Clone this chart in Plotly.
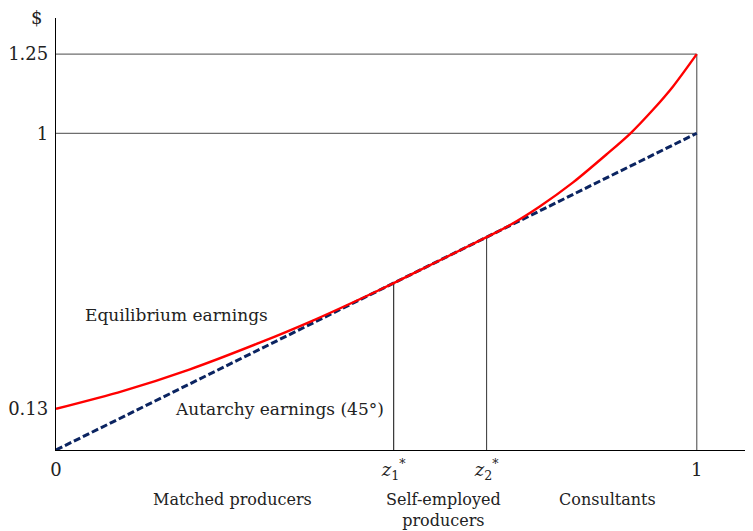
import plotly.graph_objects as go

# ---- data ----
z1 = 0.527
z2 = 0.672
autarchy_x = [0.0, 1.0]
autarchy_y = [0.0, 1.0]

equil_x = [0.0, 0.104, 0.208, 0.318, 0.40, 0.474, 0.527, 0.60, 0.672,
           0.71, 0.755, 0.807, 0.859, 0.8966, 0.932, 0.963, 1.0]
equil_y = [0.13, 0.186, 0.254, 0.339, 0.408, 0.476, 0.527, 0.60, 0.672,
           0.712, 0.769, 0.845, 0.933, 1.0, 1.075, 1.148, 1.25]

y_ticks = [0.13, 1.0, 1.25]
y_tick_text = ["0.13", "1", "1.25"]
x_ticks = [0.0, z1, z2, 1.0]
x_tick_text = ["0", "<i>z</i><sub>1</sub><sup>*</sup>", "<i>z</i><sub>2</sub><sup>*</sup>", "1"]

region_labels = ["Matched producers", "Self-employed<br>producers", "Consultants"]
region_x = [0.275, 0.605, 0.86]

FONT = "DejaVu Serif, serif"
GREY = "#6e6e6e"
TXT = "#222222"

fig = go.Figure()

# reference lines (grey)
for xs, ys, col, w in [([0, 1], [1.25, 1.25], GREY, 1.3),
                       ([0, 1], [1.0, 1.0], GREY, 1.3),
                       ([1, 1], [0, 1.25], GREY, 1.3),
                       ([z1, z1], [0, z1], "#222222", 1.1),
                       ([z2, z2], [0, z2], "#444444", 1.1)]:
    fig.add_trace(go.Scatter(x=xs, y=ys, mode="lines", line=dict(color=col, width=w),
                             hoverinfo="skip", showlegend=False))

# autarchy (45 degree) line
fig.add_trace(go.Scatter(x=autarchy_x, y=autarchy_y, mode="lines",
                         line=dict(color="#0b2461", width=3, dash="7px,3px"),
                         showlegend=False))
# equilibrium earnings
fig.add_trace(go.Scatter(x=equil_x, y=equil_y, mode="lines",
                         line=dict(color="#ff0000", width=2.4, shape="spline", smoothing=0.8),
                         showlegend=False))

annotations = [
    dict(x=0.042, y=0.426, text="Equilibrium earnings", xanchor="left", yanchor="middle",
         showarrow=False, font=dict(size=17, family=FONT, color=TXT)),
    dict(x=0.1825, y=0.129, text="Autarchy earnings (45°)", xanchor="left", yanchor="middle",
         showarrow=False, font=dict(size=17, family=FONT, color=TXT)),
    dict(x=-0.0275, y=1.002, xref="paper", yref="paper", text="$", xanchor="center",
         yanchor="middle", showarrow=False, font=dict(size=18, family=FONT, color=TXT)),
    dict(x=1.0, y=-0.03, xref="paper", yref="paper", text="<i>z</i>", xanchor="left",
         yanchor="middle", showarrow=False, font=dict(size=18, family=FONT, color=TXT)),
]
for lab, xv in zip(region_labels, region_x):
    annotations.append(dict(x=xv, y=-0.088, xref="x", yref="paper", text=lab,
                            xanchor="center", yanchor="top", showarrow=False, align="center",
                            font=dict(size=16, family=FONT, color=TXT)))

fig.update_layout(
    width=745, height=523,
    margin=dict(l=48, r=5, t=10, b=81, autoexpand=False),
    plot_bgcolor="white", paper_bgcolor="white",
    font=dict(family=FONT, size=18, color=TXT),
    annotations=annotations,
    xaxis=dict(range=[0, 1.08], showgrid=False, zeroline=False, showline=True,
               linecolor="black", linewidth=1.3, tickvals=x_ticks, ticktext=x_tick_text,
               ticks="outside", ticklen=3, tickcolor="rgba(0,0,0,0)", automargin=False),
    yaxis=dict(range=[0, 1.364], showgrid=False, zeroline=False, showline=True,
               linecolor="black", linewidth=1.3, tickvals=y_ticks, ticktext=y_tick_text,
               ticks="outside", ticklen=3, tickcolor="rgba(0,0,0,0)", automargin=False),
)

fig.write_html("out.html")
